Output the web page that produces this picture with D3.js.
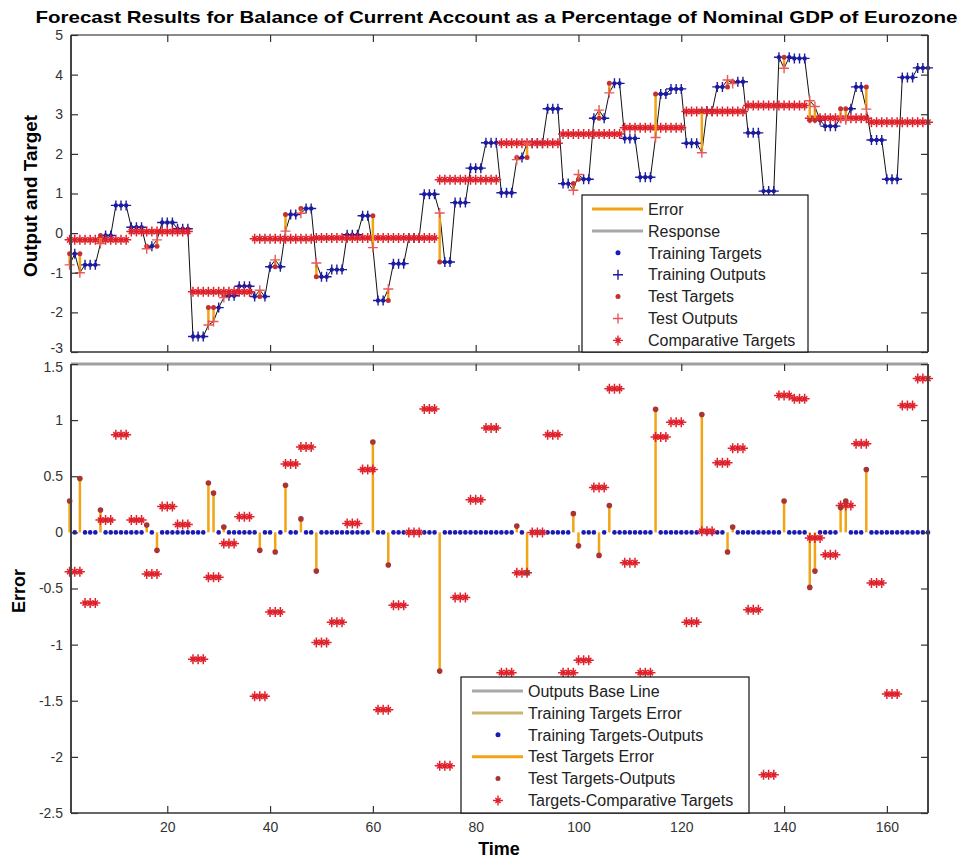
<!DOCTYPE html>
<html><head><meta charset="utf-8">
<script src="https://cdn.jsdelivr.net/npm/d3@7"></script>
<style>body{margin:0;background:#fff} text{font-family:"Liberation Sans",Arial,sans-serif}</style>
</head><body><svg id="c" width="963" height="858"></svg>
<script>
// ---------------- data ----------------
const months = d3.range(1, 169);
// quarterly target values (each repeated for 3 months)
const quarterTargets = [-0.52,-0.80,-0.06,0.70, 0.15,-0.33,0.27,0.11, -2.61,-1.88,-1.58,-1.34,
  -1.60,-0.85,0.47,0.62, -1.10,-0.92,-0.04,0.44, -1.70,-0.77,-0.12,0.98,
  -0.73,0.77,1.64,2.28, 1.02,1.91,2.27,3.14, 1.25,1.36,2.90,3.78,
  2.39,1.41,3.51,3.64, 2.27,3.08,3.69,3.82, 2.53,1.06,4.44,4.41,
  2.85,2.70,3.14,3.69, 2.35,1.36,3.93,4.17];
// yearly comparative targets (each repeated for 12 months)
const yearComparative = [-0.17,0.04,-1.48,-0.14,-0.12,-0.12,1.35,2.27,2.50,2.66,3.07,3.22,2.90,2.80];
// test points and their errors (target - output)
const testTimes  = [1,3,7,16,18,28,29,31,38,41,43,46,49,60,63,73,88,90,99,100,104,106,115,124,129,130,140,145,146,151,152,156];
const testErrors = [0.28,0.48,0.20,0.065,-0.16,0.44,0.35,0.047,-0.16,-0.175,0.42,0.12,-0.345,0.805,-0.29,-1.236,0.056,-0.36,0.167,-0.12,-0.205,0.24,1.096,1.05,-0.175,0.047,0.28,-0.49,-0.345,0.22,0.28,0.56];
const topTicks = [5,4,3,2,1,0,-1,-2,-3];
const bottomTicks = [1.5,1,0.5,0,-0.5,-1,-1.5,-2,-2.5];
const xTicks = [20,40,60,80,100,120,140,160];
const titleText = "Forecast Results for Balance of Current Account as a Percentage of Nominal GDP of Eurozone";
const topLegend = ["Error","Response","Training Targets","Training Outputs","Test Targets","Test Outputs","Comparative Targets"];
const bottomLegend = ["Outputs Base Line","Training Targets Error","Training Targets-Outputs","Test Targets Error","Test Targets-Outputs","Targets-Comparative Targets"];

// ---------------- derived ----------------
const target = months.map(t => quarterTargets[Math.floor((t - 1) / 3)]);
const comp = months.map(t => yearComparative[Math.floor((t - 1) / 12)]);
const errMap = new Map(testTimes.map((t, i) => [t, testErrors[i]]));
const output = months.map((t, i) => errMap.has(t) ? target[i] - errMap.get(t) : target[i]);
const pts = months.map((t, i) => ({t, target: target[i], comp: comp[i], out: output[i], test: errMap.has(t), err: errMap.has(t) ? errMap.get(t) : 0}));
const train = pts.filter(d => !d.test), test = pts.filter(d => d.test);

// ---------------- colours ----------------
const BLUE = "#1c1c9c", BLUEDOT = "#1a1ab4", RED = "#e0202a", REDDOT = "#c43030", REDPLUS = "#e8585a", ORANGE = "#f2a414", DKRED = "#a83434", TAN = "#cdb46c", GREY = "#a8a8a8";

const svg = d3.select("#c");
const x = d3.scaleLinear().domain([1.27, 168]).range([71, 928]);
const yT = d3.scaleLinear().domain([-3, 5]).range([352, 35]);
const yB = d3.scaleLinear().domain([-2.5, 1.5]).range([813, 364]);

const plusP = "M-5,0H5M0,-5V5";
const starP = (() => { const h = 5, d = 2.6; return `M0,-${h}V${h}M-${h},0H${h}M-${d},-${d}L${d},${d}M-${d},${d}L${d},-${d}`; })();

function axes(y, ticks, yTop, yBottom, labelX, shift) {
  const fmt = d => String(d);
  const gL = svg.append("g").attr("transform", `translate(${x.range()[0]},0)`)
    .call(d3.axisLeft(y).tickValues(ticks).tickSize(-7).tickPadding(8).tickFormat(fmt));
  const gR = svg.append("g").attr("transform", `translate(${x.range()[1]},0)`)
    .call(d3.axisRight(y).tickValues(ticks).tickSize(-7).tickFormat(""));
  const gT = svg.append("g").attr("transform", `translate(0,${yTop})`)
    .call(d3.axisTop(x).tickValues(xTicks).tickSize(-7).tickFormat(""));
  const gB = svg.append("g").attr("transform", `translate(0,${yBottom})`)
    .call(d3.axisBottom(x).tickValues(xTicks).tickSize(-7).tickPadding(9).tickFormat(labelX ? fmt : ""));
  [gL, gR, gT, gB].forEach(g => {
    g.select(".domain").remove();
    g.selectAll(".tick line").attr("stroke", "#333").attr("stroke-width", 1.2);
    g.selectAll("text").attr("font-size", 14).attr("fill", "#333").attr("font-family", '"Liberation Sans",Arial,sans-serif');
  });
  // nudge the end labels so neighbouring panels' labels do not collide
  gL.selectAll(".tick text").attr("y", d => shift[d] || 0);
}

function frame(yTop, yBottom, topCol, topW) {
  const [l, r] = x.range();
  svg.append("line").attr("x1", l).attr("x2", r).attr("y1", yTop).attr("y2", yTop).attr("stroke", topCol).attr("stroke-width", topW);
  svg.append("line").attr("x1", l).attr("x2", r).attr("y1", yBottom).attr("y2", yBottom).attr("stroke", "#666").attr("stroke-width", 2);
  svg.append("line").attr("x1", l).attr("x2", l).attr("y1", yTop).attr("y2", yBottom).attr("stroke", "#444").attr("stroke-width", 2);
  svg.append("line").attr("x1", r).attr("x2", r).attr("y1", yTop).attr("y2", yBottom).attr("stroke", "#444").attr("stroke-width", 2);
}

// ================= TOP PANEL =================
const gTop = svg.append("g");
gTop.append("path").datum(pts).attr("fill", "none").attr("stroke", "#111").attr("stroke-width", 1)
  .attr("d", d3.line().x(d => x(d.t)).y(d => yT(d.out)));
gTop.selectAll(".tt").data(train).join("circle").attr("cx", d => x(d.t)).attr("cy", d => yT(d.target)).attr("r", 2.2).attr("fill", BLUEDOT);
gTop.selectAll(".to").data(train).join("path").attr("transform", d => `translate(${x(d.t)},${yT(d.out)})`).attr("d", plusP).attr("stroke", BLUE).attr("stroke-width", 1.4);
gTop.selectAll(".ct").data(pts).join("path").attr("transform", d => `translate(${x(d.t)},${yT(d.comp)})`).attr("d", starP).attr("stroke", RED).attr("stroke-width", 1.5);
gTop.selectAll(".er").data(test).join("line").attr("x1", d => x(d.t)).attr("x2", d => x(d.t)).attr("y1", d => yT(d.target)).attr("y2", d => yT(d.out)).attr("stroke", ORANGE).attr("stroke-width", 2.5);
gTop.selectAll(".xt").data(test).join("circle").attr("cx", d => x(d.t)).attr("cy", d => yT(d.target)).attr("r", 2.5).attr("fill", REDDOT);
gTop.selectAll(".xo").data(test).join("path").attr("transform", d => `translate(${x(d.t)},${yT(d.out)})`).attr("d", plusP).attr("stroke", REDPLUS).attr("stroke-width", 1.4);
frame(35, 352, "#8a8a8a", 2);
axes(yT, topTicks, 35, 352, false, {"-3": -4});

// ================= BOTTOM PANEL =================
const gBot = svg.append("g");
gBot.selectAll(".st").data(test).join("line").attr("x1", d => x(d.t)).attr("x2", d => x(d.t)).attr("y1", yB(0)).attr("y2", d => yB(d.err)).attr("stroke", ORANGE).attr("stroke-width", 2.5);
gBot.selectAll(".bd").data(train).join("circle").attr("cx", d => x(d.t)).attr("cy", yB(0)).attr("r", 2.3).attr("fill", BLUEDOT);
gBot.selectAll(".cd").data(pts).join("path").attr("transform", d => `translate(${x(d.t)},${yB(d.target - d.comp)})`).attr("d", starP).attr("stroke", RED).attr("stroke-width", 1.5);
gBot.selectAll(".rd").data(test).join("circle").attr("cx", d => x(d.t)).attr("cy", d => yB(d.err)).attr("r", 2.8).attr("fill", DKRED);
frame(364, 813, "#a0a0a0", 3);
axes(yB, bottomTicks, 364, 813, true, {"1.5": 3});

// ================= LEGENDS =================
function legend(bx, by, bw, bh, items, y0, step, lx1, lx2, mx, tx) {
  const g = svg.append("g");
  g.append("rect").attr("x", bx).attr("y", by).attr("width", bw).attr("height", bh).attr("fill", "#fff").attr("stroke", "#111").attr("stroke-width", 1.2);
  items.forEach((it, i) => {
    const y = y0 + i * step;
    if (it.type === "line") g.append("line").attr("x1", lx1).attr("x2", lx2).attr("y1", y).attr("y2", y).attr("stroke", it.color).attr("stroke-width", 3);
    else if (it.type === "dot") g.append("circle").attr("cx", mx).attr("cy", y).attr("r", 2.5).attr("fill", it.color);
    else g.append("path").attr("transform", `translate(${mx},${y})`).attr("d", it.type === "plus" ? plusP : starP).attr("stroke", it.color).attr("stroke-width", 1.4);
    g.append("text").attr("x", tx).attr("y", y).attr("dy", "0.36em").attr("font-size", 16).attr("fill", "#222").text(it.label);
  });
}
const topStyles = [["line", ORANGE], ["line", GREY], ["dot", BLUEDOT], ["plus", BLUE], ["dot", REDDOT], ["plus", REDPLUS], ["star", RED]];
legend(582, 195, 226, 157, topLegend.map((l, i) => ({label: l, type: topStyles[i][0], color: topStyles[i][1]})), 209, 21.9, 592, 643, 618, 648);
const botStyles = [["line", GREY], ["line", TAN], ["dot", BLUEDOT], ["line", ORANGE], ["dot", DKRED], ["star", RED]];
legend(461, 677, 288, 136, bottomLegend.map((l, i) => ({label: l, type: botStyles[i][0], color: botStyles[i][1]})), 691, 21.9, 472, 523, 498, 528);

// ================= TEXT =================
svg.append("text").attr("x", 496.5).attr("y", 23).attr("text-anchor", "middle").attr("font-size", 17).attr("font-weight", "bold")
  .attr("textLength", 922).attr("lengthAdjust", "spacingAndGlyphs").text(titleText);
svg.append("text").attr("transform", "translate(37,196) rotate(-90)").attr("text-anchor", "middle").attr("font-size", 18).attr("font-weight", "bold")
  .attr("textLength", 162).attr("lengthAdjust", "spacingAndGlyphs").text("Output and Target");
svg.append("text").attr("transform", "translate(25,591) rotate(-90)").attr("text-anchor", "middle").attr("font-size", 18).attr("font-weight", "bold").text("Error");
svg.append("text").attr("x", 499).attr("y", 855).attr("text-anchor", "middle").attr("font-size", 18).attr("font-weight", "bold").text("Time");
</script></body></html>
